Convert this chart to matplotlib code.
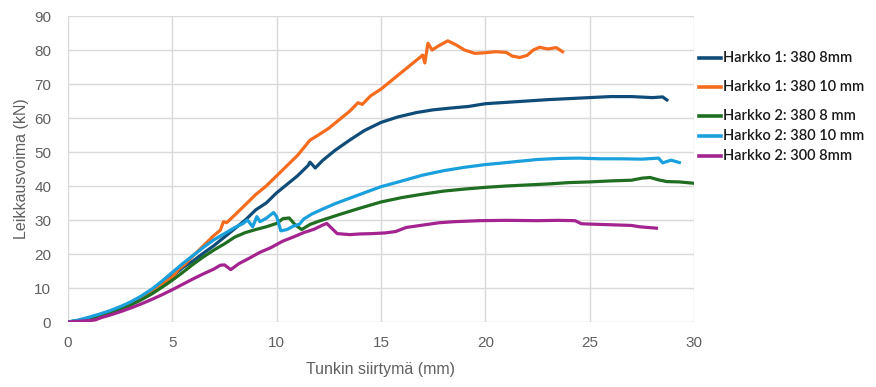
import matplotlib
matplotlib.use("Agg")
import matplotlib.pyplot as plt
from matplotlib.lines import Line2D

# ---------------- data ----------------
h1_8_x = [0, 0.5, 1, 1.5, 2, 2.5, 3, 3.5, 4, 4.5, 5, 5.5, 6, 6.5, 7, 7.5, 8, 8.5, 9, 9.5,
          10, 10.5, 11, 11.5, 11.6, 11.85, 12.2, 12.8, 13.5, 14.2, 15, 15.8, 16.7, 17.5,
          18.3, 19.2, 20, 21, 22, 23, 24, 25, 26, 27, 28, 28.5, 28.7]
h1_8_y = [0, 0.4, 1, 1.8, 2.8, 4, 5.3, 7, 9, 11.2, 13.5, 16, 18, 20.3, 22.5, 25, 27.5, 30, 33, 35,
          38, 40.5, 43, 46, 47, 45.3, 47.5, 50.5, 53.5, 56.3, 58.7, 60.3, 61.6, 62.4,
          62.9, 63.4, 64.2, 64.6, 65.0, 65.4, 65.7, 66.0, 66.3, 66.3, 66.0, 66.2, 65.3]

h1_10_x = [0, 0.5, 1, 1.5, 2, 2.5, 3, 3.5, 4, 4.5, 5, 5.3, 5.6, 6, 6.5, 7, 7.3, 7.45, 7.6, 8,
           8.5, 9, 9.5, 10, 10.5, 11, 11.4, 11.6, 12, 12.5, 13, 13.5, 13.9, 14.1, 14.5, 15,
           15.5, 16, 16.5, 17.0, 17.1, 17.25, 17.45, 17.7, 18.2, 18.6, 19, 19.5, 20, 20.5,
           21, 21.3, 21.65, 22, 22.3, 22.6, 23, 23.4, 23.7]
h1_10_y = [0, 0.4, 1, 1.8, 2.8, 4, 5.3, 7, 9, 11.2, 13.2, 15.5, 17, 19.5, 22.5, 25.5, 27, 29.5, 29.2, 31.5,
           34.5, 37.5, 40, 43, 46, 49, 52, 53.5, 55, 57, 59.5, 62, 64.5, 64, 66.5, 68.5,
           71, 73.5, 76, 78.5, 76.2, 82, 80, 81, 82.7, 81.5, 80, 79, 79.2, 79.5,
           79.3, 78.2, 77.8, 78.4, 80, 80.8, 80.3, 80.7, 79.5]

h2_8_x = [0, 0.5, 1, 1.5, 2, 2.5, 3, 3.5, 4, 4.5, 5, 5.5, 6, 6.5, 7, 7.5, 8, 8.5, 9, 9.5, 10,
          10.3, 10.6, 10.9, 11.2, 11.6, 12, 12.5, 13, 14, 15, 16, 17, 18, 19, 20, 21, 22,
          23, 24, 25, 26, 27, 27.5, 27.9, 28.3, 28.7, 29.3, 30]
h2_8_y = [0, 0.4, 1, 1.7, 2.6, 3.7, 5, 6.5, 8.2, 10.2, 12.3, 14.6, 17, 19.2, 21.2, 23, 25, 26.3, 27.2, 28, 29,
          30.4, 30.6, 28.5, 27.2, 28.7, 29.6, 30.6, 31.6, 33.5, 35.3, 36.6, 37.6, 38.5, 39.1, 39.6, 40, 40.3,
          40.6, 41, 41.2, 41.5, 41.7, 42.3, 42.5, 41.8, 41.3, 41.2, 40.8]

h2_10_x = [0, 0.5, 1, 1.5, 2, 2.5, 3, 3.5, 4, 4.5, 5, 5.5, 6, 6.5, 7, 7.5, 8, 8.4, 8.6, 8.85,
           9.05, 9.2, 9.5, 9.85, 10.0, 10.2, 10.5, 10.8, 11.1, 11.3, 11.7, 12.2, 12.8, 13.5,
           14.2, 15, 15.9, 17, 18, 19, 20, 20.7, 21.5, 22.5, 23.5, 24.5, 25.5, 26.5, 27.5,
           28.3, 28.5, 28.9, 29.3]
h2_10_y = [0, 0.6, 1.4, 2.3, 3.3, 4.5, 5.9, 7.6, 9.6, 12, 14.6, 17.2, 19.6, 22, 24.2, 26, 27.8, 29, 30, 28,
           31, 29.5, 30.5, 32.2, 31, 26.8, 27.2, 28.2, 28.8, 30.3, 31.8, 33.2, 34.8, 36.4,
           38, 39.8, 41.3, 43.2, 44.5, 45.5, 46.3, 46.7, 47.2, 47.8, 48.1, 48.2, 48.0, 48.0, 47.9,
           48.2, 46.8, 47.6, 46.9]

h2_300_x = [0, 0.5, 1, 1.3, 1.6, 2, 2.5, 3, 3.5, 4, 4.5, 5, 5.5, 6, 6.5, 7, 7.3, 7.5, 7.8, 8.2,
            8.7, 9.2, 9.7, 10.3, 10.8, 11.3, 11.8, 12.2, 12.4, 12.6, 12.9, 13.5, 14, 14.6, 15.2,
            15.7, 16.2, 17, 17.8, 18.5, 19.7, 21, 22.5, 23.5, 24.3, 24.6, 25, 26, 27, 27.4, 28.2]
h2_300_y = [0, 0.2, 0.4, 0.6, 1.3, 2, 3, 4.1, 5.3, 6.6, 8, 9.5, 11.1, 12.7, 14.2, 15.6, 16.7, 16.8, 15.4, 17.2,
            18.8, 20.5, 21.8, 23.8, 25, 26.3, 27.3, 28.5, 29, 27.8, 26, 25.7, 25.9, 26, 26.2,
            26.6, 27.8, 28.5, 29.2, 29.5, 29.8, 29.9, 29.8, 29.9, 29.8, 28.9, 28.8, 28.6, 28.4, 28.0, 27.6]

series_labels = ["Harkko 1: 380 8mm", "Harkko 1: 380 10 mm", "Harkko 2: 380 8 mm",
                 "Harkko 2: 380 10 mm", "Harkko 2: 300 8mm"]
series_colors = ["#104c78", "#f56c1e", "#1f6e22", "#1aa0dc", "#a3238f"]

x_ticks = [0, 5, 10, 15, 20, 25, 30]
y_ticks = [0, 10, 20, 30, 40, 50, 60, 70, 80, 90]
x_label = "Tunkin siirtymä (mm)"
y_label = "Leikkausvoima (kN)"

# ---------------- figure ----------------
fig = plt.figure(figsize=(8.76, 3.87), dpi=100)
W, H = 876, 387
ax = fig.add_axes([68 / W, (H - 322) / H, (694 - 68) / W, (322 - 16) / H])

xs = [h1_8_x, h1_10_x, h2_8_x, h2_10_x, h2_300_x]
ys = [h1_8_y, h1_10_y, h2_8_y, h2_10_y, h2_300_y]
for x, y, c, lab in zip(xs, ys, series_colors, series_labels):
    ax.plot(x, y, color=c, lw=2.3, label=lab, solid_joinstyle="round", zorder=3)

ax.set_xlim(0, 30)
ax.set_ylim(0, 90)
ax.set_xticks(x_ticks)
ax.set_yticks(y_ticks)
ax.grid(True, color="#d9d9d9", lw=1.0, zorder=0)
for s in ax.spines.values():
    s.set_visible(False)
ax.tick_params(length=0, labelsize=11, labelcolor="#606060")
ax.tick_params(axis="x", pad=10)
ax.tick_params(axis="y", pad=12)
for lbl in ax.get_xticklabels() + ax.get_yticklabels():
    lbl.set_fontfamily("Liberation Sans")
ax.set_xlabel(x_label, fontsize=11.5, color="#606060", family="Liberation Sans", labelpad=9)
ax.set_ylabel(y_label, fontsize=11.5, color="#606060", family="Liberation Sans", labelpad=4)

# legend (manually placed, uneven spacing as in reference)
legend_y_px = [58, 87, 116, 136, 156]
for lab, c, ypx in zip(series_labels, series_colors, legend_y_px):
    yy = (H - ypx) / H
    fig.add_artist(Line2D([699 / W, 721 / W], [yy, yy], color=c, lw=2.6,
                          transform=fig.transFigure))
    fig.text(723 / W, yy, lab, fontsize=10.5, family="Lato", fontweight="semibold",
             color="#1a1a1a", va="center", ha="left")

fig.savefig("out.png", dpi=100)
